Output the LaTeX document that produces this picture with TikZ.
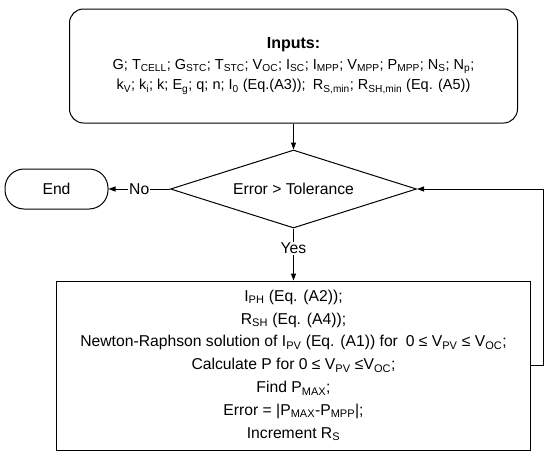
\documentclass[tikz,border=0pt]{standalone}
\usepackage{fontspec}
\setmainfont{Liberation Sans}
\usetikzlibrary{shapes.geometric,arrows.meta}
\newcommand{\sub}[1]{\textsubscript{#1}}

\begin{document}
\begin{tikzpicture}[x=1pt,y=-1pt,
    every node/.style={font=\fontsize{15.7}{22.8}\selectfont,align=center},
    box/.style={draw,line width=1pt,inner sep=0},
    arr/.style={line width=1pt,-{Triangle[length=7pt,width=5pt]}}]
  \useasboundingbox (0,0) rectangle (550,461);
  \node[box,rounded corners=14pt,minimum width=448pt,minimum height=114pt,
        font=\fontsize{14.5}{20.5}\selectfont] (inputs) at (293.5,66)
    {{\fontsize{16}{20.5}\selectfont\textbf{Inputs:}}\\
     G; T\sub{CELL}; G\sub{STC}; T\sub{STC}; V\sub{OC}; I\sub{SC}; I\sub{MPP}; V\sub{MPP}; P\sub{MPP}; N\sub{S}; N\sub{p};\\
     k\sub{V}; k\sub{i}; k; E\sub{g}; q; n; I\sub{0} (Eq.(A3));\enspace R\sub{S,min}; R\sub{SH,min} (Eq. (A5))};
  \node[box,diamond,aspect=3.2,minimum width=246pt,minimum height=78pt] (test) at (293.5,189) {Error > Tolerance};
  \node[box,rounded corners=19pt,minimum width=103pt,minimum height=40pt] (end) at (56.5,189) {End};
  \node[box,minimum width=474pt,minimum height=169pt] (calc) at (293.5,365.5)
    {I\sub{PH} (Eq. (A2));\\
     R\sub{SH} (Eq. (A4));\\
     Newton-Raphson solution of I\sub{PV} (Eq. (A1)) for\enspace 0 ≤ V\sub{PV} ≤ V\sub{OC};\\
     Calculate P for 0 ≤ V\sub{PV} ≤V\sub{OC};\\
     Find P\sub{MAX};\\
     Error = |P\sub{MAX}-P\sub{MPP}|;\\
     Increment R\sub{S}};
  \coordinate (loop) at (543,365.5);
  \draw[arr] (inputs) -- (test);
  \draw[arr] (test.west) -- node[fill=white,inner sep=1pt]{No} (end.east);
  \draw[arr] (test.south) -- node[fill=white,inner sep=1pt,pos=0.38]{Yes} (calc.north);
  \draw[arr] (calc.east) -- (loop) |- (test.east);
\end{tikzpicture}
\end{document}
